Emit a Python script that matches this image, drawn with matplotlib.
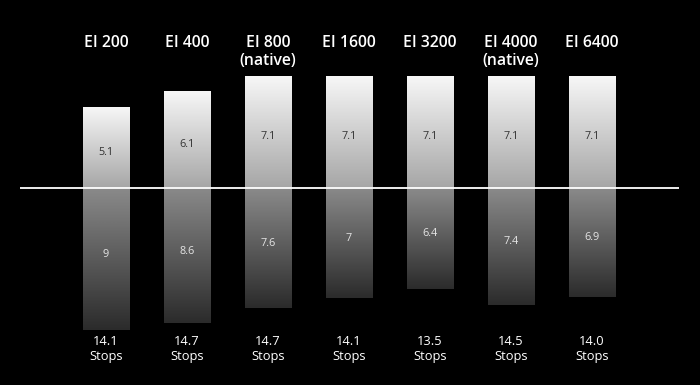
import numpy as np
import matplotlib
matplotlib.use("Agg")
import matplotlib.pyplot as plt
from matplotlib.colors import LinearSegmentedColormap
from matplotlib.transforms import blended_transform_factory

# Data
labels = ["EI 200", "EI 400", "EI 800\n(native)", "EI 1600", "EI 3200", "EI 4000\n(native)", "EI 6400"]
above = [5.1, 6.1, 7.1, 7.1, 7.1, 7.1, 7.1]
below = [9, 8.6, 7.6, 7, 6.4, 7.4, 6.9]
totals = ["14.1", "14.7", "14.7", "14.1", "13.5", "14.5", "14.0"]

plt.rcParams['font.family'] = ['Open Sans', 'DejaVu Sans']

W, H = 700, 385
fig = plt.figure(figsize=(W / 100, H / 100), dpi=100, facecolor='black')
ax = fig.add_axes([0, 0, 1, 1])
ax.set_facecolor('black')
ax.axis('off')

# gradients: upper part white -> grey, lower part grey -> dark
upper_cmap = LinearSegmentedColormap.from_list('up', ['#a6a6a6', '#f7f7f7'])
lower_cmap = LinearSegmentedColormap.from_list('lo', ['#2b2b2b', '#8a8a8a'])
grad = np.linspace(0, 1, 256).reshape(-1, 1)

bw = 0.568
x = np.arange(len(labels))
for i in x:
    ax.imshow(grad, cmap=upper_cmap, extent=(i - bw / 2, i + bw / 2, 0, above[i]),
              origin='lower', aspect='auto', interpolation='bilinear', zorder=2)
    ax.imshow(grad, cmap=lower_cmap, extent=(i - bw / 2, i + bw / 2, -below[i], 0),
              origin='lower', aspect='auto', interpolation='bilinear', zorder=2)
    ax.text(i, above[i] / 2 - 0.27, f"{above[i]:g}", ha='center', va='center',
            color='#333333', fontsize=7.8, zorder=4)
    ax.text(i, -below[i] / 2 + 0.3, f"{below[i]:g}", ha='center', va='center',
            color='#e6e6e6', fontsize=7.8, zorder=4)

# pixel layout: zero line at 188 px from top, 15.75 px per stop, 81 px between bars
ax.set_ylim(-(H - 188) / 15.75, 188 / 15.75)
ax.set_xlim(-106 / 81, (W - 106) / 81)

ax.hlines(0, (20 - 106) / 81, (679 - 106) / 81, color='white', lw=1.3, zorder=3)

tr = blended_transform_factory(ax.transData, fig.transFigure)
for i, lab in enumerate(labels):
    for k, line in enumerate(lab.split("\n")):
        ax.text(i, 1 - (47 + 18 * k) / H, line, transform=tr, ha='center', va='baseline',
                color='white', fontsize=11.3, fontweight='semibold')
    ax.text(i, 1 - 345 / H, totals[i], transform=tr, ha='center', va='baseline',
            color='white', fontsize=9.3)
    ax.text(i, 1 - 360 / H, "Stops", transform=tr, ha='center', va='baseline',
            color='white', fontsize=9.3)

fig.savefig("out.png", dpi=100, facecolor='black')
